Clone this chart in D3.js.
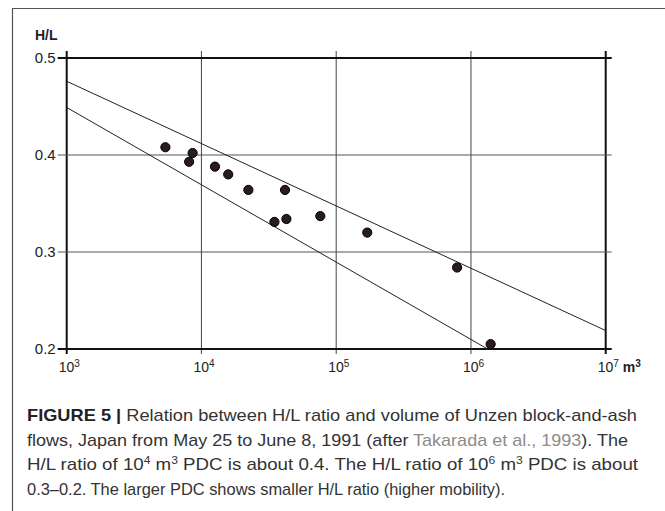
<!DOCTYPE html>
<html>
<head>
<meta charset="utf-8">
<script src="https://cdn.jsdelivr.net/npm/d3@7"></script>
<style>
  html, body { margin: 0; padding: 0; background: #fff; overflow: hidden; }
  svg { display: block; }
</style>
</head>
<body>
<svg id="chart" width="665" height="511"></svg>
<script>
// data (volume in m3, H/L ratio)
var volumes = [5400, 8600, 8100, 12600, 15800, 22300, 41700, 34800, 42700, 76200, 170000, 789000, 1400000];
var ratios = [0.408, 0.402, 0.393, 0.388, 0.380, 0.364, 0.364, 0.331, 0.334, 0.337, 0.320, 0.284, 0.205];

// envelope lines [volume, H/L]
var upperLine = [[1e3, 0.476], [1e7, 0.219]];
var lowerLine = [[1e3, 0.449], [1.33e6, 0.2]];

var xTicks = [1e3, 1e4, 1e5, 1e6, 1e7];
var yTicks = [0.2, 0.3, 0.4, 0.5];

var caption = [
  [{t: "FIGURE 5 | ", b: true}, {t: "Relation between H/L ratio and volume of Unzen block-and-ash"}],
  [{t: "flows, Japan from May 25 to June 8, 1991 (after "}, {t: "Takarada et al., 1993", link: true}, {t: "). The"}],
  [{t: "H/L ratio of 10"}, {t: "4", sup: true}, {t: " m"}, {t: "3", sup: true}, {t: " PDC is about 0.4. The H/L ratio of 10"}, {t: "6", sup: true}, {t: " m"}, {t: "3", sup: true}, {t: " PDC is about"}],
  [{t: "0.3\u20130.2. The larger PDC shows smaller H/L ratio (higher mobility)."}]
];
var captionWidths = [610, 601, 611, 478];

window.onload = function() {

	var svg = d3.select("#chart");
	var font = "'Liberation Sans', Arial, sans-serif";
	var narrow = "'Liberation Sans Narrow', 'Arial Narrow', 'Liberation Sans', Arial, sans-serif";

	// outer frame: only top and left edges fall inside the picture
	svg.append("path")
		.attr("d", "M12.5,520 L12.5,8.5 L670,8.5")
		.attr("fill", "none")
		.attr("stroke", "#555")
		.attr("stroke-width", 1.2);

	// scales
	var x = d3.scaleLog().domain([1e3, 1e7]).range([66.7, 605.7]);
	var y = d3.scaleLinear().domain([0.2, 0.5]).range([349, 58]);

	var g = svg.append("g");

	// vertical grid lines
	g.selectAll(".vgrid")
		.data(xTicks)
		.enter().append("line")
		.attr("x1", function(d) { return x(d); })
		.attr("x2", function(d) { return x(d); })
		.attr("y1", y(0.5) - 7)
		.attr("y2", y(0.2) + 5)
		.attr("stroke", function(d, i) { return (i == 0 || i == xTicks.length - 1) ? "#111" : "#555"; })
		.attr("stroke-width", function(d, i) { return (i == 0 || i == xTicks.length - 1) ? 2 : 1.1; });

	// horizontal grid lines
	g.selectAll(".hgrid")
		.data(yTicks)
		.enter().append("line")
		.attr("x1", x(1e3) - 9)
		.attr("x2", x(1e7) + 6)
		.attr("y1", function(d) { return y(d); })
		.attr("y2", function(d) { return y(d); })
		.attr("stroke", function(d, i) { return (i == 0 || i == yTicks.length - 1) ? "#111" : "#555"; })
		.attr("stroke-width", function(d, i) { return (i == 0 || i == yTicks.length - 1) ? 2 : 1.1; });

	// envelope lines
	var line = d3.line()
		.x(function(d) { return x(d[0]); })
		.y(function(d) { return y(d[1]); });

	g.selectAll(".env")
		.data([upperLine, lowerLine])
		.enter().append("path")
		.attr("d", line)
		.attr("fill", "none")
		.attr("stroke", "#222")
		.attr("stroke-width", 1);

	// points
	g.selectAll("circle")
		.data(volumes)
		.enter().append("circle")
		.attr("cx", function(d) { return x(d); })
		.attr("cy", function(d, i) { return y(ratios[i]); })
		.attr("r", 4.6)
		.attr("fill", "#2a1c1c")
		.attr("stroke", "#000")
		.attr("stroke-width", 1);

	// y tick labels
	g.selectAll(".ylab")
		.data(yTicks)
		.enter().append("text")
		.attr("x", x(1e3) - 11)
		.attr("y", function(d) { return y(d); })
		.attr("dy", ".36em")
		.attr("text-anchor", "end")
		.style("font-family", font)
		.style("font-size", "15px")
		.attr("fill", "#222")
		.text(function(d) { return d3.format(".1f")(d); });

	// y axis title
	g.append("text")
		.attr("x", 35).attr("y", 40)
		.style("font-family", font)
		.style("font-size", "14px")
		.style("font-weight", "bold")
		.attr("fill", "#222")
		.text("H/L");

	// x tick labels 10^n
	var xl = g.selectAll(".xlab")
		.data(xTicks)
		.enter().append("text")
		.attr("x", function(d) { return x(d) - 8; })
		.attr("y", 372)
		.style("font-family", font)
		.style("font-size", "14px")
		.attr("fill", "#222");
	xl.append("tspan").text("10");
	xl.append("tspan")
		.attr("dy", -5)
		.style("font-size", "10px")
		.text(function(d) { return Math.round(Math.log10(d)); });

	// unit
	var unit = g.append("text")
		.attr("x", x(1e7) + 17).attr("y", 372)
		.style("font-family", font)
		.style("font-size", "14px")
		.style("font-weight", "bold")
		.attr("fill", "#222");
	unit.append("tspan").text("m");
	unit.append("tspan").attr("dy", -5).style("font-size", "10px").text("3");

	// caption, narrow font stretched to the measured line widths
	var cap = svg.selectAll(".cap")
		.data(caption)
		.enter().append("text")
		.attr("x", 27)
		.attr("y", function(d, i) { return 421 + i * 24.5; })
		.style("font-family", narrow)
		.style("font-size", "17px")
		.attr("fill", "#333");

	cap.each(function(parts) {
		var t = d3.select(this);
		var shifted = false;
		parts.forEach(function(p) {
			var s = t.append("tspan").text(p.t);
			if (p.b) s.style("font-weight", "bold").attr("fill", "#222");
			if (p.link) s.attr("fill", "#8c8c8c");
			if (p.sup) {
				s.attr("dy", -6).style("font-size", "11px");
				shifted = true;
			} else if (shifted) {
				s.attr("dy", 6);
				shifted = false;
			}
		});
	});

	cap.attr("textLength", function(d, i) { return captionWidths[i]; })
		.attr("lengthAdjust", "spacingAndGlyphs");
};
</script>
</body>
</html>
